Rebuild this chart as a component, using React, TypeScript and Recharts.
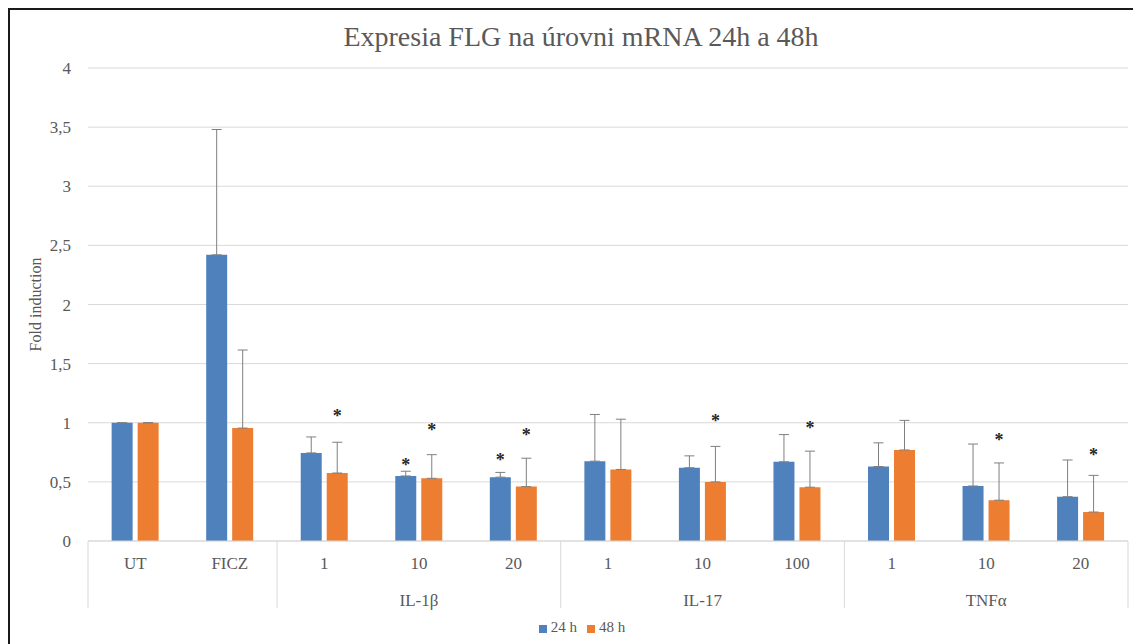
import { Bar, BarChart, CartesianGrid, ErrorBar, LabelList, Legend, XAxis, YAxis } from "recharts";

const FONT = "'Liberation Serif', 'Times New Roman', serif";
const TEXT = "#595959";
const GRID = "#d9d9d9";

const CATEGORIES = ["UT", "FICZ", "1", "10", "20", "1", "10", "100", "1", "10", "20"];
const GROUPS = ["", "", "IL-1β", "IL-1β", "IL-1β", "IL-17", "IL-17", "IL-17", "TNFα", "TNFα", "TNFα"];

const MEAN_24 = [1.0, 2.42, 0.745, 0.55, 0.54, 0.675, 0.62, 0.67, 0.63, 0.465, 0.375];
const SD_24 = [0, 1.06, 0.135, 0.04, 0.04, 0.395, 0.1, 0.23, 0.2, 0.355, 0.31];
const MEAN_48 = [1.0, 0.955, 0.575, 0.53, 0.46, 0.605, 0.5, 0.455, 0.77, 0.345, 0.245];
const SD_48 = [0, 0.66, 0.26, 0.2, 0.24, 0.425, 0.3, 0.305, 0.25, 0.315, 0.31];

// height of the significance asterisk (in fold-induction units), null = none
const STAR_24 = [null, null, null, 0.66, 0.7, null, null, null, null, null, null];
const STAR_48 = [null, null, 1.07, 0.955, 0.91, null, 1.03, 0.97, null, 0.87, 0.745];

const Y_TICKS = [0, 0.5, 1, 1.5, 2, 2.5, 3, 3.5, 4];

const chartData = CATEGORIES.map((c, i) => ({
  id: String(i),
  label: c,
  h24: MEAN_24[i],
  e24: [0, SD_24[i]],
  h48: MEAN_48[i],
  e48: [0, SD_48[i]],
}));

const CategoryTick = (props: any) => {
  const { x, y, index, payload } = props;
  const half = payload?.offset ?? 47;
  const group = GROUPS[index];
  const startsGroup = index === 0 || group !== GROUPS[index - 1];
  const isLast = index === CATEGORIES.length - 1;
  let runLen = 0;
  if (startsGroup && group) {
    while (GROUPS[index + runLen] === group) runLen++;
  }
  return (
    <g>
      <text x={x} y={y + 28} textAnchor="middle" fill={TEXT} fontSize={17} style={{ fontFamily: FONT }}>
        {CATEGORIES[index]}
      </text>
      {startsGroup && <line x1={x - half} x2={x - half} y1={y} y2={y + 67} stroke={GRID} />}
      {isLast && <line x1={x + half} x2={x + half} y1={y} y2={y + 67} stroke={GRID} />}
      {runLen > 0 && (
        <text x={x - half + runLen * half} y={y + 65} textAnchor="middle" fill={TEXT} fontSize={17} style={{ fontFamily: FONT }}>
          {group}
        </text>
      )}
    </g>
  );
};

const ValueTick = (props: any) => {
  const { x, y, payload } = props;
  return (
    <text x={x} y={y + 6} textAnchor="end" fill={TEXT} fontSize={17} style={{ fontFamily: FONT }}>
      {String(payload.value).replace(".", ",")}
    </text>
  );
};

const makeStar = (stars: (number | null)[]) => (props: any) => {
  const { x, y, width, height, value, index } = props;
  const s = stars[index];
  if (s == null || !value) return null;
  const perUnit = Number(height) / Number(value);
  const base = Number(y) + Number(height);
  return (
    <text
      x={Number(x) + Number(width) / 2}
      y={base - s * perUnit + 8}
      textAnchor="middle"
      fontSize={18}
      fontWeight="bold"
      style={{ fontFamily: FONT }}
      fill="#262626"
    >
      *
    </text>
  );
};

const App = () => {
  return (
    <div
      style={{
        position: "relative",
        width: 1133,
        height: 640,
        boxSizing: "border-box",
        borderLeft: "2px solid #1a1a1a",
        borderTop: "2px solid #1a1a1a",
        borderRight: "1px solid #d0d0d0",
        background: "#fff",
        fontFamily: FONT,
      }}
    >
      <div
        style={{
          position: "absolute",
          top: 11,
          left: 6,
          width: "100%",
          textAlign: "center",
          fontSize: 28,
          color: TEXT,
          fontFamily: FONT,
        }}
      >
        Expresia FLG na úrovni mRNA 24h a 48h
      </div>
      <BarChart
        width={1128}
        height={630}
        data={chartData}
        margin={{ top: 58, right: 10, left: 0, bottom: 4 }}
        barCategoryGap="25%"
        barGap={5}
      >
        <CartesianGrid vertical={false} stroke={GRID} />
        <XAxis
          dataKey="id"
          interval={0}
          height={78}
          tickLine={false}
          tickSize={0}
          tickMargin={0}
          axisLine={{ stroke: GRID }}
          tick={<CategoryTick />}
        />
        <YAxis
          width={78}
          domain={[0, 4]}
          ticks={Y_TICKS}
          axisLine={false}
          tickLine={false}
          tickSize={0}
          tickMargin={17}
          tick={<ValueTick />}
          label={{
            value: "Fold induction",
            angle: -90,
            position: "insideLeft",
            offset: 25,
            style: { textAnchor: "middle", fill: TEXT, fontSize: 16, fontFamily: FONT },
          }}
        />
        <Legend
          verticalAlign="bottom"
          iconType="square"
          iconSize={8}
          wrapperStyle={{ fontFamily: FONT, fontSize: 15, paddingLeft: 18 }}
          formatter={(v: string) => <span style={{ color: TEXT }}>{v}</span>}
        />
        <Bar dataKey="h24" name="24 h" fill="#4f81bd" isAnimationActive={false}>
          <ErrorBar dataKey="e24" direction="y" width={5} stroke="#7f7f7f" strokeWidth={1} />
          <LabelList dataKey="h24" content={makeStar(STAR_24)} />
        </Bar>
        <Bar dataKey="h48" name="48 h" fill="#ed7d31" isAnimationActive={false}>
          <ErrorBar dataKey="e48" direction="y" width={5} stroke="#7f7f7f" strokeWidth={1} />
          <LabelList dataKey="h48" content={makeStar(STAR_48)} />
        </Bar>
      </BarChart>
    </div>
  );
};

export default App;
